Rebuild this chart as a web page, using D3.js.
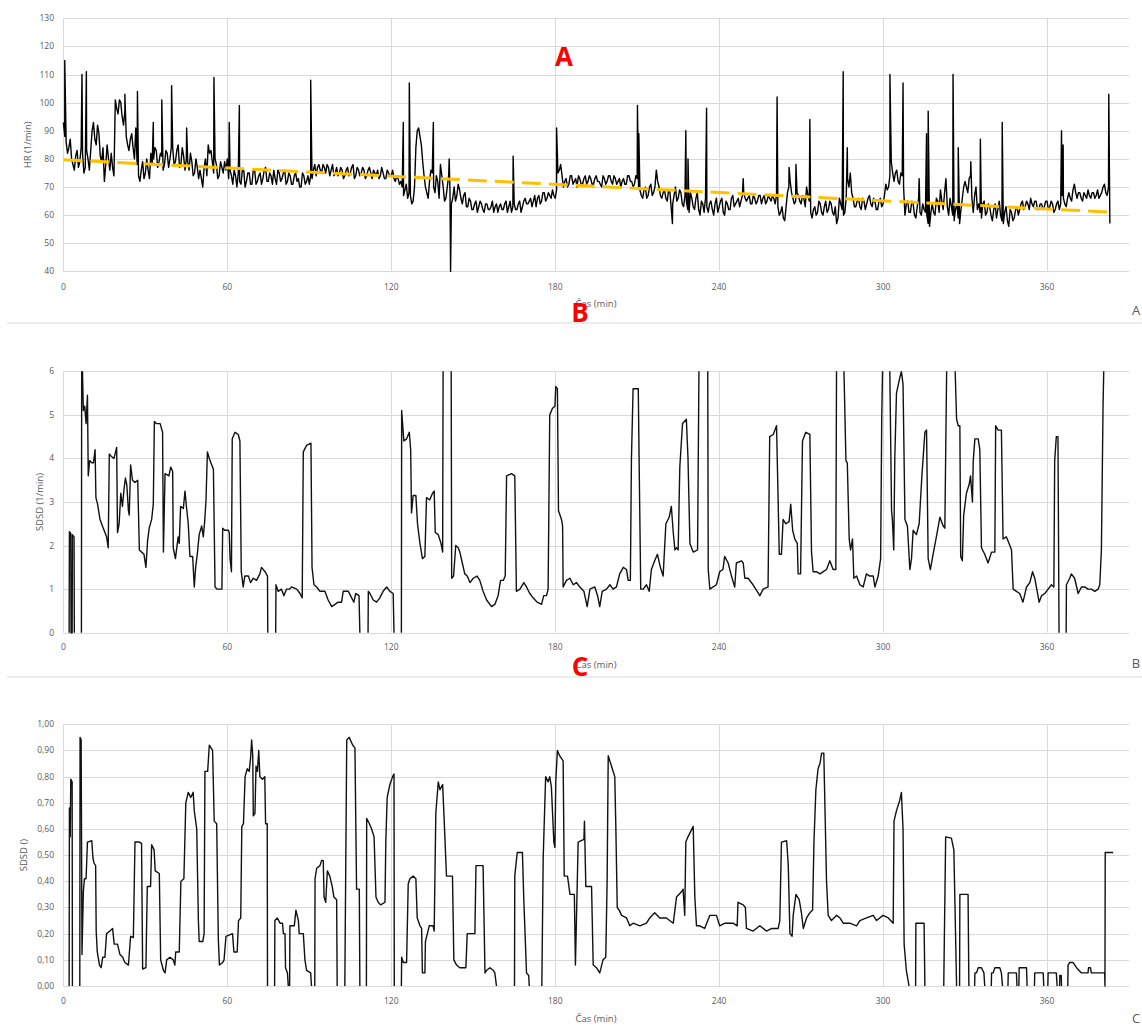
<html>
<head>
<title>HR / SDSD</title>
<style>
  body { margin: 0; background: #fff; }
  text { font-family: "Open Sans", "Liberation Sans", sans-serif; }
</style>
</head>
<body>
<svg id="chart" width="1142" height="1026"></svg>

<script src="https://d3js.org/d3.v7.min.js"></script>
<script>

// ---------- data ----------
var xTicks = [0, 60, 120, 180, 240, 300, 360]
var hrTicks = [40, 50, 60, 70, 80, 90, 100, 110, 120, 130]
var sdsdTicks = [0, 1, 2, 3, 4, 5, 6]
var relTicks = [0, 0.1, 0.2, 0.3, 0.4, 0.5, 0.6, 0.7, 0.8, 0.9, 1.0]

// HR on whole minutes (t = index)
var hrBase = [
  93,86,84,80,76,83,79,82,77,80, 83,93,85,89,79,72,85,76,77,101,
  96,100,92,88,83,89,80,78,72,79, 75,76,82,80,83,79,81,78,82,80,
  84,79,85,78,81,80,76,79,75,77, 76,70,80,85,83,75,78,74,77,79,
  80,76,71,74,75,71,76,72,75,71, 76,72,75,73,77,72,74,76,71,75,
  73,76,72,74,71,75,73,70,74,72, 71,73,78,77,76,78,75,77,76,74,
  77,75,76,74,77,75,78,74,76,75, 76,74,77,73,75,76,74,75,73,75,
  74,73,74,71,70,69,66,67,65,84, 91,85,74,68,72,75,68,72,78,70,
  66,74,64,70,67,69,64,68,63,65, 62,65,63,64,61,64,62,65,63,61,
  64,62,65,63,61,64,62,65,63,66, 64,66,65,63,67,65,68,66,67,69,
  66,75,78,70,73,71,74,72,70,73, 71,74,72,73,71,74,72,70,73,72,
  74,71,73,72,70,73,71,74,72,71, 73,69,66,70,67,71,68,76,70,66,
  69,65,68,64,70,66,68,63,65,61, 66,62,68,60,64,66,61,65,60,66,
  63,66,60,64,62,67,64,66,65,68, 65,67,64,66,65,67,66,64,67,65,
  66,67,60,63,58,68,72,66,65,67, 64,66,70,65,59,63,61,64,60,65,
  62,64,60,57,66,62,61,73,75,66, 63,66,62,65,64,67,63,65,62,66,
  64,71,70,79,72,76,71,74,60,65, 61,64,59,66,60,62,60,56,64,60,
  65,69,62,73,60,63,58,64,57,66, 72,68,74,61,70,64,59,65,61,63,
  58,64,62,60,57,63,56,61,59,63, 62,65,63,64,66,63,65,62,64,63,
  65,63,64,62,65,64,66,63,68,65, 71,66,68,65,67,69,66,68,67,66,
  68,71,67,57
]

// HR on half minutes (t = index + 0.5)
var hrHalf = [
  88,82,87,78,81,77,84,75,83,76, 90,87,92,81,84,78,80,82,74,98,
  101,95,97,85,87,84,91,74,76,73, 80,73,78,84,77,82,76,83,77,84,
  78,83,77,84,76,79,82,74,80,73, 73,77,74,82,79,80,73,79,75,76,
  73,74,76,70,72,76,70,75,71,76, 71,74,71,76,72,75,71,73,76,72,
  75,71,75,71,74,72,70,75,71,74, 74,76,74,78,75,77,78,74,78,75,
  74,77,73,76,74,77,73,77,74,77, 73,76,75,76,74,73,77,73,76,74,
  76,72,73,72,67,71,68,64,70,90, 88,79,70,66,76,70,74,66,74,65,
  70,68,66,65,71,66,67,63,66,62, 64,61,65,62,64,62,63,61,64,63,
  62,64,61,65,63,62,64,61,65,64, 65,63,67,66,64,68,65,68,66,67,
  69,76,74,72,70,74,71,73,74,71, 73,71,74,71,73,72,71,74,71,74,
  72,74,71,73,72,71,74,72,70,74, 70,67,69,66,70,67,70,72,67,68,
  66,69,62,67,65,69,64,67,62,68, 63,66,62,65,61,63,64,62,64,61,
  65,61,65,62,66,63,65,63,67,66, 66,64,67,64,67,64,67,65,66,67,
  64,63,61,59,63,70,68,64,68,65, 67,63,67,61,62,60,65,61,63,61,
  65,61,63,59,64,60,66,70,68,63, 65,63,66,62,66,64,66,62,65,63,
  67,69,74,75,75,72,75,70,64,61, 65,60,63,61,64,61,57,61,61,66,
  61,65,68,63,66,60,62,59,62,70, 70,73,66,67,62,61,64,60,64,60,
  62,59,65,58,61,58,62,58,62,60, 64,62,65,62,64,65,62,64,62,65,
  62,65,61,64,62,67,64,66,66,69, 68,68,66,68,66,67,68,66,69,67,
  70,68,70
]

// single-beat HR spikes (min, 1/min)
var hrSpikeT = [0.5, 6.8, 8.4, 22.5, 27.1, 32.9, 36, 39.6, 45.1, 55.1, 60.7, 64.4, 90.5,
  124.4, 126.6, 135.4, 141.2, 141.7, 164.6, 180.5, 210.1, 210.6, 222.9, 227.8, 228.6, 235.4,
  248.8, 261.2, 265.6, 268.1, 273.2, 285.4, 286.9, 302.5, 307.3, 313.2, 315.9, 316.5, 325.6,
  327.5, 332.1, 335.6, 343.6, 365.3, 365.9, 382.6]
var hrSpikeV = [115, 110, 111, 103, 104, 93, 101, 106, 91, 109, 93, 99, 108,
  93, 107, 93, 80, 40, 81, 91, 99, 89, 57, 90, 80, 98,
  73, 102, 77, 78, 94, 111, 84, 110, 107, 73, 89, 97, 110,
  84, 79, 87, 93, 90, 85, 103]

// linear trend of HR
var trendT = [0, 385]
var trendV = [79.7, 61]

// SDSD (1/min), [min, value]; null = gap
var sdsd = [
  [2.1,0],[2.2,2.32],[2.7,2.28],[2.8,0],[3.2,0],[3.3,2.25],[3.9,2.2],[4.0,0],[5,null],
  [6.6,0],[6.7,6.8],[7.3,5.1],[7.8,5.2],[8.3,4.8],[8.8,5.45],[9.1,3.6],[9.6,3.95],[10.4,3.9],[11,3.9],[11.6,4.2],
  [11.9,3.1],[12.5,2.95],[13.4,2.6],[14.6,2.4],[15.8,2.2],[16.4,1.95],[16.8,4.1],[17.5,4.05],[18.5,4.0],[19.5,4.25],
  [19.8,2.3],[20.4,2.5],[21,3.2],[21.6,2.9],[22.2,3.3],[22.7,3.55],[23.2,3.4],[23.8,2.8],[24.1,2.7],[24.6,3.85],
  [25.3,3.5],[26.2,3.45],[27.2,3.5],[27.8,1.9],[28.6,1.85],[29.5,1.8],[30.2,1.5],[30.8,2.1],[31.4,2.4],[32.3,2.6],
  [32.9,2.95],[33.3,4.85],[34,4.8],[35.4,4.8],[36.3,4.6],[36.6,1.85],[37.2,3.65],[38.6,3.6],[39.3,3.8],[40,3.7],
  [40.2,1.95],[41,1.7],[42,2.2],[42.4,2.05],[42.9,2.9],[43.9,2.85],[44.5,3.25],[45.1,2.85],[45.7,2.5],[46.3,1.75],
  [47.3,1.75],[47.9,1.05],[48.4,1.5],[49,1.8],[49.7,2.25],[50.6,2.45],[51.2,2.2],[51.7,2.55],[52.2,3.05],[52.7,4.15],
  [53.4,4.0],[54.3,3.85],[54.9,3.75],[55.5,1.05],[56.2,1.0],[58,1.0],[58.3,2.4],[59,2.35],[60.4,2.35],[60.7,2.3],
  [61,1.7],[61.5,1.4],[61.8,4.45],[62.8,4.6],[64,4.55],[64.6,4.4],[65.1,1.4],[65.8,1.05],[66.4,1.3],[67.7,1.3],
  [68.5,1.15],[69.5,1.25],[70.7,1.2],[71.9,1.35],[72.5,1.5],[73.8,1.4],[74.7,1.3],[74.8,0],[76,null],
  [77.7,0],[77.8,1.1],[78.6,0.95],[79.8,1.0],[80.7,0.85],[81.6,1.0],[82.8,1.0],[83.5,1.05],[85.4,1.0],[86.6,0.9],
  [87.4,0.8],[87.8,4.15],[89,4.3],[90.6,4.35],[91,1.5],[91.7,1.1],[92.7,1.05],[93.9,0.95],[95.7,0.95],[96.9,0.75],
  [98.2,0.6],[99.4,0.65],[100.6,0.7],[101.8,0.7],[102.4,0.95],[104.3,0.95],[105.5,0.8],[106.3,0.7],[107,0.9],
  [108.2,0.85],[108.5,0],[110,null],
  [111.5,0],[111.6,0.95],[112.2,0.9],[113.4,0.75],[114.6,0.7],[115.8,0.8],[117,0.95],[118.3,1.05],[119.5,0.95],
  [120.7,0.9],[121,0],[122,null],
  [123.7,0],[123.8,5.1],[124.6,4.4],[125.6,4.45],[126.6,4.6],[127.1,4.2],[127.4,2.75],[128,3.15],[129,3.15],
  [129.6,2.5],[130.5,2.05],[131.4,1.7],[132.3,1.75],[132.9,3.1],[134.1,3.05],[135.1,3.2],[135.7,3.25],[136.1,2.3],
  [137.2,2.25],[138.2,2.05],[138.8,1.85],[139,6.8],[141.9,6.8],[142.1,1.25],[142.8,1.3],[143.6,2.0],[144.5,1.95],
  [145.1,1.85],[146,1.6],[146.9,1.35],[147.8,1.3],[148.8,1.15],[150,1.25],[151.4,1.3],[152.4,1.2],[153.6,0.95],
  [154.9,0.75],[156.7,0.6],[157.9,0.65],[159.1,0.85],[160,1.2],[161,1.2],[161.7,1.3],[162.2,3.6],[164,3.65],
  [165.2,3.6],[165.8,0.95],[167.1,1.0],[168.5,1.15],[169.5,1.05],[170.7,0.9],[171.9,0.8],[173.4,0.7],[175,0.65],
  [175.8,0.85],[176.8,0.85],[177.4,1.0],[178,5.0],[179,5.15],[179.9,5.2],[180.2,5.65],[180.8,5.6],[181.2,2.8],
  [182.3,2.6],[182.7,2.45],[182.9,1.05],[184.1,1.2],[185.4,1.25],[186.6,1.1],[187.8,1.15],[189,1.05],[190.5,0.95],
  [191.7,0.6],[192.7,1.0],[194.5,1.05],[195.5,0.85],[196.3,0.6],[197.2,0.95],[198.8,1.0],[200,1.1],[201.2,1.0],
  [202.4,1.05],[203.6,1.35],[204.9,1.5],[206.1,1.45],[206.7,1.2],[207.5,1.2],[207.9,4.0],[208.5,5.6],[210.4,5.6],
  [210.7,4.0],[211.3,1.0],[212.2,1.0],[213.4,1.1],[214.4,0.95],[215.2,1.45],[216.4,1.65],[217.4,1.8],[218.5,1.5],
  [219.5,1.3],[220.5,2.5],[221.7,2.65],[222.5,2.9],[223.2,2.3],[223.8,1.9],[224.4,1.95],[225,1.9],[225.6,3.8],
  [226.6,4.8],[228,4.9],[228.6,4.0],[229.3,2.05],[230.5,1.85],[232.1,1.9],[232.7,6.8],[235.8,6.8],[236,1.45],
  [236.6,1.0],[237.8,1.05],[239,1.1],[240.2,1.4],[241.4,1.45],[242,1.75],[243.3,1.6],[244.5,1.3],[245.7,1.05],
  [246.3,1.6],[248.2,1.65],[248.8,1.6],[249.4,1.25],[250.6,1.25],[252.4,1.1],[254.9,0.85],[256.1,1.0],[257.9,1.05],
  [258.5,4.5],[259.8,4.55],[261,4.75],[261.6,3.0],[262,1.8],[262.8,1.8],[263.4,2.6],[264.4,2.5],[265.6,2.55],
  [266.2,2.95],[266.9,2.35],[267.7,2.15],[268.6,2.05],[268.9,1.35],[269.8,1.35],[270.5,4.4],[271.7,4.6],[273.2,4.55],
  [273.8,1.85],[274.4,1.4],[275.6,1.4],[276.9,1.35],[278.1,1.4],[279.3,1.45],[280.5,1.65],[281.7,1.45],[282.7,1.45],
  [283,6.8],[285.4,6.8],[286.4,3.95],[286.9,3.9],[287.6,2.15],[288.1,1.9],[288.8,2.15],[289.3,1.25],[290.3,1.3],
  [291.5,1.1],[292.7,1.05],[293.9,1.35],[295.1,1.3],[296.4,1.3],[297,1.05],[298.2,1.3],[299.1,1.7],[299.5,4.9],
  [300,6.8],[302.3,6.8],[303.1,2.8],[303.4,2.6],[303.9,1.9],[304.3,4.05],[304.9,5.5],[306.1,5.85],[306.7,6.0],
  [307.3,5.7],[308,2.6],[308.9,2.45],[309.8,1.45],[310.4,1.7],[311,2.35],[312.2,2.25],[313.2,2.5],[314.2,3.6],
  [315.3,4.6],[315.9,4.65],[316.5,1.7],[317.3,1.45],[318.3,1.8],[319.5,2.2],[320.8,2.65],[322,2.45],[322.6,2.4],
  [323.4,6.8],[326,6.8],[326.9,4.9],[327.5,4.75],[328.1,4.75],[328.4,1.75],[329,1.65],[329.5,2.7],[330.5,3.2],
  [331.5,3.4],[332,3.6],[332.7,3.0],[333,3.95],[333.6,4.45],[334.8,4.45],[335.4,4.2],[336,1.95],[337.2,1.8],
  [338.4,1.6],[339.7,1.85],[340.9,1.85],[341.2,4.75],[342.1,4.65],[343.3,4.65],[343.9,2.15],[345.1,2.2],[346.4,2.0],
  [347,1.9],[347.6,1.0],[348.8,0.95],[350,0.9],[351.2,0.7],[352.5,1.05],[353.7,1.15],[354.7,1.4],[355.5,1.25],
  [356.4,0.95],[357.1,0.7],[358,0.85],[359.2,0.9],[360.4,1.0],[361.6,1.1],[362.5,1.05],[362.8,3.95],[363.4,4.5],
  [364,4.5],[364.4,0],[365.5,null],
  [367,0],[367.1,1.1],[368.3,1.25],[368.9,1.35],[370.1,1.25],[371.4,0.9],[372.6,1.05],[373.8,1.05],[375,1.0],
  [376.2,1.0],[377.5,0.95],[378.7,1.0],[379.3,1.1],[379.9,1.9],[380.5,5.2],[381,6.8]
]

// SDSD (), [min, value]; null = gap
var rel = [
  [2.1,0],[2.2,0.68],[2.5,0.57],[2.7,0.79],[3.2,0.78],[3.3,0],[4.5,null],
  [6.0,0],[6.1,0.95],[6.5,0.94],[6.8,0.12],[7.3,0.36],[7.7,0.41],[8.3,0.41],[8.8,0.55],[10.4,0.555],[10.8,0.49],
  [11.2,0.47],[11.8,0.46],[12,0.21],[12.4,0.13],[13.2,0.08],[13.8,0.07],[14.4,0.11],[15.2,0.11],[15.8,0.2],[17,0.21],
  [18,0.22],[18.6,0.16],[19.8,0.16],[20.7,0.12],[21.7,0.11],[22.5,0.09],[23.8,0.08],[24.6,0.19],[25.6,0.185],
  [26.2,0.55],[27.8,0.55],[28.6,0.545],[29,0.065],[30.2,0.07],[30.7,0.38],[31.9,0.38],[32.3,0.54],[33.2,0.52],
  [33.6,0.44],[35.1,0.43],[35.6,0.1],[36.6,0.06],[37.2,0.05],[37.8,0.1],[39,0.11],[40.2,0.1],[40.8,0.08],[41.1,0.13],
  [42.4,0.13],[43,0.4],[44.1,0.41],[44.8,0.7],[45.7,0.74],[46.6,0.72],[47.5,0.74],[47.9,0.67],[48.8,0.6],[49.4,0.25],
  [49.7,0.17],[51,0.17],[51.5,0.2],[51.8,0.82],[52.8,0.82],[53.4,0.92],[54.6,0.9],[55.2,0.63],[56.1,0.62],[56.7,0.18],
  [57.1,0.08],[58.3,0.09],[58.8,0.1],[59.5,0.19],[61.9,0.2],[62.4,0.13],[63.6,0.13],[64.1,0.25],[64.9,0.26],
  [65.3,0.61],[65.9,0.62],[66.5,0.8],[67.3,0.83],[68,0.82],[68.5,0.87],[68.9,0.94],[69.3,0.88],[69.5,0.65],
  [70.1,0.66],[70.5,0.84],[71,0.82],[71.5,0.9],[71.9,0.8],[72.9,0.79],[73.7,0.8],[74,0.62],[74.6,0.62],[74.7,0],[76,null],
  [77.3,0],[77.4,0.25],[78.3,0.26],[79.3,0.24],[80.2,0.24],[80.5,0.2],[81.1,0.2],[81.3,0.07],[82,0.05],[82.3,0],[82.6,null],
  [82.8,0],[82.9,0.23],[84.5,0.23],[85.1,0.29],[86,0.25],[86.3,0.2],[87.8,0.2],[88.4,0.1],[89,0.06],[90.5,0.05],
  [90.8,0],[91.5,null],
  [92,0],[92.1,0.41],[92.7,0.45],[93.9,0.46],[94.5,0.48],[95.1,0.48],[95.4,0.34],[96,0.32],[96.6,0.44],[97.5,0.42],
  [98.4,0.38],[99,0.34],[100,0.33],[100.2,0],[101.5,null],
  [103,0],[103.7,0.94],[104.6,0.95],[105.9,0.92],[106.7,0.91],[107.3,0.37],[108.3,0.37],[108.5,0],[109.5,null],
  [110.9,0],[111,0.64],[112,0.62],[112.8,0.6],[113.7,0.57],[114.4,0.34],[115.2,0.32],[116.1,0.31],[117.7,0.32],
  [118,0.55],[118.5,0.72],[119.5,0.77],[120.5,0.8],[121,0.81],[121.1,0],[122.5,null],
  [123.7,0],[123.8,0.11],[124.4,0.09],[125.6,0.09],[126.2,0.39],[126.8,0.41],[128,0.42],[129,0.41],[129.5,0.26],
  [130.5,0.23],[131.1,0.22],[131.4,0.05],[132.3,0.05],[132.5,0.17],[133.2,0.2],[133.9,0.23],[135.3,0.23],
  [135.7,0.21],[136.3,0.66],[137.2,0.78],[137.8,0.75],[138.8,0.77],[139.3,0.65],[140.2,0.42],[142.4,0.42],
  [142.9,0.1],[143.9,0.08],[145.1,0.07],[147.3,0.07],[147.8,0.2],[150.6,0.2],[151,0.46],[153.6,0.46],[154.3,0.05],
  [154.9,0.06],[156.1,0.07],[157.3,0.06],[157.9,0.05],[158.5,0],[160,null],
  [165.1,0],[165.2,0.42],[166.1,0.51],[168,0.51],[168.5,0.33],[169.5,0.05],[170.3,0.04],[170.5,0],[172,null],
  [175.1,0],[175.6,0.49],[176.5,0.8],[177.4,0.78],[178,0.8],[178.6,0.76],[179.5,0.55],[179.9,0.53],[180.2,0.78],
  [180.8,0.9],[181.6,0.88],[182.9,0.86],[183.3,0.42],[184.5,0.42],[185.4,0.35],[187,0.35],[187.4,0.08],[188.4,0.55],
  [190.5,0.56],[190.7,0.63],[191.2,0.38],[193.3,0.38],[193.9,0.08],[195.1,0.07],[196.3,0.05],[197.5,0.1],[198.5,0.11],
  [199,0.4],[199.4,0.88],[200.6,0.84],[201.8,0.8],[202.2,0.6],[202.7,0.3],[203.4,0.29],[204.3,0.27],[206.1,0.26],
  [207.3,0.23],[208.5,0.24],[211,0.23],[213.4,0.24],[214.6,0.26],[216.4,0.28],[218.3,0.26],[220.7,0.26],[223.2,0.24],
  [224.4,0.34],[226.2,0.36],[226.8,0.37],[227.4,0.27],[227.8,0.55],[228.6,0.57],[230.5,0.61],[231.1,0.34],[231.7,0.23],
  [232.9,0.23],[234.7,0.22],[236.6,0.27],[239,0.27],[240.2,0.23],[242.1,0.24],[245.1,0.24],[246.6,0.23],[246.9,0.32],
  [248.8,0.31],[249.6,0.3],[250,0.22],[252.4,0.21],[254.9,0.23],[257.3,0.21],[259.3,0.22],[261.6,0.22],[262.2,0.25],
  [262.5,0.4],[262.8,0.55],[264.7,0.555],[265.3,0.46],[265.9,0.2],[266.7,0.19],[267.1,0.27],[268.1,0.35],[269.3,0.33],
  [270.1,0.28],[270.8,0.22],[272,0.26],[273.2,0.28],[274.2,0.29],[274.7,0.55],[275.4,0.75],[276.2,0.83],[276.9,0.85],
  [277.5,0.89],[278.3,0.89],[279.3,0.4],[279.9,0.27],[281.1,0.25],[283,0.27],[284.2,0.26],[285.4,0.24],[287.8,0.24],
  [290.3,0.23],[291.5,0.25],[293.9,0.26],[296.4,0.27],[297.6,0.25],[300,0.27],[301.9,0.26],[303.7,0.24],[304,0.63],
  [304.9,0.67],[306.1,0.71],[306.7,0.74],[307.3,0.6],[307.7,0.16],[308.5,0.06],[309.5,0],[310.5,null],
  [311.9,0],[312,0.24],[315,0.24],[315.3,0],[318,null],
  [322.2,0],[322.9,0.57],[325,0.565],[325.9,0.52],[326.9,0],[327.5,null],
  [328,0],[328.1,0.35],[331.1,0.35],[331.4,0],[332.5,null],
  [333.5,0],[333.6,0.05],[334.2,0.05],[334.8,0.07],[336,0.07],[336.9,0.05],[337.2,0],[338,null],
  [339.6,0],[339.7,0.05],[340.3,0.05],[340.9,0.07],[342.7,0.07],[343.3,0.05],[343.7,0],[344.5,null],
  [345.7,0],[345.8,0.05],[348.8,0.05],[349,0],[349.3,null],
  [349.7,0],[349.8,0.07],[352.5,0.07],[352.7,0],[354,null],
  [355.4,0],[355.5,0.05],[358.6,0.05],[358.8,0],[359.5,null],
  [360.3,0],[360.4,0.05],[363.4,0.05],[363.7,0],[364.2,null],
  [364.6,0],[364.7,0.04],[365.2,0.04],[365.3,0],[366.5,null],
  [367.6,0],[367.7,0.08],[368.3,0.09],[369.5,0.09],[370.8,0.07],[372.6,0.05],[375,0.05],[375.2,0.07],[375.9,0.07],
  [376.2,0.05],[381.1,0.05],[381.2,0],[381.3,0.51],[384.2,0.51]
]

// ---------- drawing ----------
var svg = d3.select('#chart')
var gridCol = '#d9d9d9'
var textCol = '#595959'

var x = d3.scaleLinear().domain([0, 390]).range([63.4, 1129])

// layout of the three stacked panels
var panels = [
  {id: 'A', top: 18.3, bottom: 271.4, domain: [40, 130], ticks: hrTicks, fmt: d3.format('d'),
   yTitle: 'HR (1/min)', yTitleX: 28, xLabY: 289.5, xTitleY: 307, tagY: 315},
  {id: 'B', top: 371.3, bottom: 632.7, domain: [0, 6], ticks: sdsdTicks, fmt: d3.format('d'),
   yTitle: 'SDSD (1/min)', yTitleX: 40, xLabY: 649.5, xTitleY: 668, tagY: 668},
  {id: 'C', top: 724.3, bottom: 986, domain: [0, 1], ticks: relTicks, fmt: d => d3.format('.2f')(d).replace('.', ','),
   yTitle: 'SDSD ()', yTitleX: 24, xLabY: 1003.5, xTitleY: 1022, tagY: 1023}
]

// separators between panels
svg.selectAll('line.sep')
  .data([323, 677])
  .enter().append('line')
  .attr('x1', 7).attr('x2', 1142)
  .attr('y1', d => d).attr('y2', d => d)
  .attr('stroke', gridCol).attr('stroke-width', 1)

panels.forEach(function(p) {
  p.y = d3.scaleLinear().domain(p.domain).range([p.bottom, p.top])
  let g = svg.append('g').attr('class', 'panel-' + p.id)

  // horizontal gridlines
  g.selectAll('line.hgrid')
    .data(p.ticks)
    .enter().append('line')
    .attr('x1', x(0)).attr('x2', x(390))
    .attr('y1', d => Math.round(p.y(d)) + 0.5).attr('y2', d => Math.round(p.y(d)) + 0.5)
    .attr('stroke', gridCol)

  // vertical gridlines
  g.selectAll('line.vgrid')
    .data(xTicks)
    .enter().append('line')
    .attr('x1', d => Math.round(x(d)) + 0.5).attr('x2', d => Math.round(x(d)) + 0.5)
    .attr('y1', p.top).attr('y2', p.bottom)
    .attr('stroke', gridCol)

  // tick labels
  g.selectAll('text.ylab')
    .data(p.ticks)
    .enter().append('text')
    .attr('x', 54).attr('y', d => p.y(d)).attr('dy', '0.35em')
    .attr('text-anchor', 'end')
    .attr('font-size', 8.5).attr('fill', textCol)
    .text(p.fmt)

  g.selectAll('text.xlab')
    .data(xTicks)
    .enter().append('text')
    .attr('x', d => x(d)).attr('y', p.xLabY)
    .attr('text-anchor', 'middle')
    .attr('font-size', 8.5).attr('fill', textCol)
    .text(d => d)

  // axis titles
  g.append('text')
    .attr('transform', 'translate(' + p.yTitleX + ',' + ((p.top + p.bottom) / 2) + ') rotate(-90)')
    .attr('dy', '0.35em')
    .attr('text-anchor', 'middle')
    .attr('font-size', 9.5).attr('fill', textCol)
    .text(p.yTitle)

  g.append('text')
    .attr('x', 596).attr('y', p.xTitleY)
    .attr('text-anchor', 'middle')
    .attr('font-size', 9.5).attr('fill', textCol)
    .text('Čas (min)')

  // panel tag bottom right
  g.append('text')
    .attr('x', 1136).attr('y', p.tagY)
    .attr('text-anchor', 'middle')
    .attr('font-size', 13).attr('fill', textCol)
    .text(p.id)

  // clip for the series
  svg.append('clipPath').attr('id', 'clip-' + p.id)
    .append('rect')
    .attr('x', x(0) - 2).attr('y', p.top)
    .attr('width', x(390) - x(0) + 4).attr('height', p.bottom - p.top + 2)
})

// --- panel A: HR with spikes and trend ---
var pA = panels[0]
var hrPoints = hrBase.map((v, i) => [i, v])
hrHalf.forEach((v, i) => hrPoints.push([i + 0.5, v]))
hrSpikeT.forEach((t, i) => hrPoints.push([t, hrSpikeV[i]]))
hrPoints.sort((a, b) => a[0] - b[0])

var lineA = d3.line().x(d => x(d[0])).y(d => pA.y(d[1]))

svg.append('path')
  .datum(hrPoints)
  .attr('clip-path', 'url(#clip-A)')
  .attr('d', lineA)
  .attr('fill', 'none')
  .attr('stroke', '#000')
  .attr('stroke-width', 1.4)
  .attr('stroke-linejoin', 'round')

svg.append('path')
  .datum(trendT.map((t, i) => [t, trendV[i]]))
  .attr('d', lineA)
  .attr('fill', 'none')
  .attr('stroke', '#FFC000')
  .attr('stroke-width', 3)
  .attr('stroke-dasharray', '19,8')

// --- panels B and C ---
function drawSteps(p, data) {
  let line = d3.line()
    .defined(d => d[1] != null)
    .x(d => x(d[0]))
    .y(d => p.y(d[1]))
  svg.append('path')
    .datum(data)
    .attr('clip-path', 'url(#clip-' + p.id + ')')
    .attr('d', line)
    .attr('fill', 'none')
    .attr('stroke', '#111')
    .attr('stroke-width', 1.4)
    .attr('stroke-linejoin', 'round')
}
drawSteps(panels[1], sdsd)
drawSteps(panels[2], rel)

// red overlay letters
var redTags = [
  {t: 'A', x: 564, y: 66},
  {t: 'B', x: 580, y: 322},
  {t: 'C', x: 580, y: 676}
]
svg.selectAll('text.red')
  .data(redTags)
  .enter().append('text')
  .attr('x', d => d.x).attr('y', d => d.y)
  .attr('text-anchor', 'middle')
  .attr('font-family', '"Liberation Sans", Arial, sans-serif')
  .attr('font-weight', 'bold')
  .attr('font-size', 26)
  .attr('fill', '#ff0000')
  .text(d => d.t)

</script>
</body>
</html>
